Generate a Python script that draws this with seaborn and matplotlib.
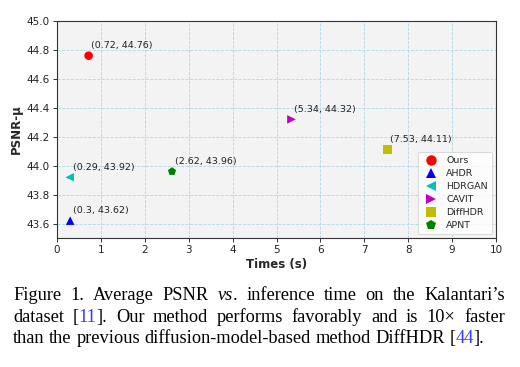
import matplotlib
matplotlib.use("Agg")
import matplotlib.pyplot as plt
from matplotlib.lines import Line2D
import seaborn as sns
import pandas as pd

methods = ["Ours", "AHDR", "HDRGAN", "CAVIT", "DiffHDR", "APNT"]
times = [0.72, 0.3, 0.29, 5.34, 7.53, 2.62]
psnr = [44.76, 43.62, 43.92, 44.32, 44.11, 43.96]
colors = ["red", "blue", "c", "m", "y", "green"]
markers = ["o", "^", "<", ">", "s", "p"]
xticks = list(range(0, 11))
yticks = [43.6, 43.8, 44.0, 44.2, 44.4, 44.6, 44.8, 45.0]

df = pd.DataFrame({"Method": methods, "Time": times, "PSNR": psnr})

sns.set_style("whitegrid")
plt.rcParams["font.family"] = ["DejaVu Sans"]

fig = plt.figure(figsize=(5.2, 3.67), dpi=100)
ax = fig.add_axes([57/520, 1-238/367, (496-57)/520, (238-21)/367])
ax.set_facecolor("#f3f3f3")

sns.scatterplot(data=df, x="Time", y="PSNR", hue="Method", style="Method",
                palette=dict(zip(methods, colors)), markers=dict(zip(methods, markers)),
                s=38, edgecolor="none", ax=ax, zorder=3, legend=False)

for m, t, p in zip(methods, times, psnr):
    ax.annotate(f"({t}, {p})", (t, p), xytext=(2, 5.5), textcoords="offset points",
                fontsize=6.8, color="#222222")

ax.set_xlim(0, 10)
ax.set_ylim(43.5, 45.0)
ax.set_xticks(xticks)
ax.set_yticks(yticks)
ax.set_xticklabels([str(v) for v in xticks])
ax.set_yticklabels([f"{v:.1f}" for v in yticks])
ax.tick_params(axis="both", labelsize=7.5, length=3, width=0.7, color="#333333", pad=2,
               left=True, bottom=True, labelcolor="#222222")
ax.grid(True, color="#add8e6", linestyle="--", linewidth=0.6)
for s in ax.spines.values():
    s.set_color("#333333")
    s.set_linewidth(0.8)
ax.set_xlabel("Times (s)", fontsize=8.5, fontweight="bold", labelpad=2)
ax.set_ylabel("PSNR-μ", fontsize=8.5, fontweight="bold", labelpad=3)

handles = [Line2D([], [], linestyle="none", marker=mk, color=c, markersize=7.5,
                  markeredgewidth=0) for mk, c in zip(markers, colors)]
leg = ax.legend(handles, methods, loc="lower right", fontsize=6.8, frameon=True,
                handletextpad=0.6, borderpad=0.45, labelspacing=0.42,
                borderaxespad=0.4, handlelength=2.0)
leg.get_frame().set_edgecolor("#cccccc")
leg.get_frame().set_linewidth(0.6)

# Caption
serif = ["Liberation Serif"]
lines = [
    [("Figure 1.  Average PSNR ", "k", "normal"), ("vs", "k", "italic"), (". inference time on the Kalantari\u2019s", "k", "normal")],
    [("dataset [", "k", "normal"), ("11", "#3a3aff", "normal"), ("].  Our method performs favorably and is 10\u00d7 faster", "k", "normal")],
    [("than the previous diffusion-model-based method DiffHDR [", "k", "normal"), ("44", "#3a3aff", "normal"), ("].", "k", "normal")],
]
ys = [300, 322, 343]
left, right = 13, 505
last_right = 482
fig.canvas.draw()
r = fig.canvas.get_renderer()

def split_words(segs):
    words = [[]]
    for text, c, st in segs:
        parts = text.split(" ")
        for i, p in enumerate(parts):
            if i > 0:
                words.append([])
            if p:
                words[-1].append((p, c, st))
    return [w for w in words if w]

def width(txt, st, fs):
    t = fig.text(0, 0, txt, fontsize=fs, family=serif, style=st)
    w = t.get_window_extent(renderer=r).width
    t.remove()
    return w

fs0 = 12.0
full3 = "".join(s[0] for s in lines[2])
w3 = width(full3, "normal", fs0)
fs = fs0 * (last_right - left) / w3

for li, (segs, y) in enumerate(zip(lines, ys)):
    words = split_words(segs)
    wws = [sum(width(p, st, fs) for p, c, st in w) for w in words]
    space = width("a b", "normal", fs) - width("ab", "normal", fs)
    if li < len(lines) - 1:
        gap = (right - left - sum(wws)) / (len(words) - 1)
    else:
        gap = space
    x = left
    for w, ww in zip(words, wws):
        xx = x
        for p, c, st in w:
            fig.text(xx / 520, 1 - y / 367, p, fontsize=fs, family=serif, style=st,
                     color=c, va="baseline", ha="left")
            xx += width(p, st, fs)
        x += ww + gap

fig.savefig("out.png", dpi=100)
